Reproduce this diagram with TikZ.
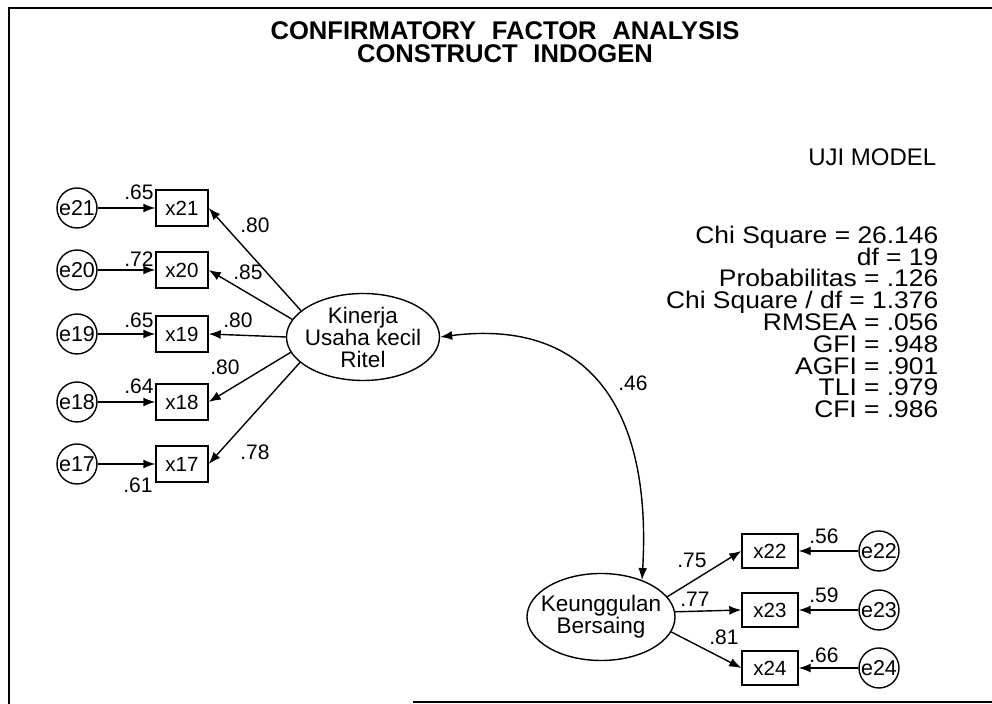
\documentclass[tikz,border=0pt]{standalone}
\usepackage{fontspec}
\setmainfont{Liberation Sans}
\newfontfamily\titlefont[WordSpace=2.2]{Liberation Sans}
\newfontfamily\statfont[FakeStretch=1.1]{Liberation Sans}
\usetikzlibrary{arrows.meta,shapes.geometric}
\newcommand{\tightlines}{\lineskiplimit=-20pt\relax}
\begin{document}
\begin{tikzpicture}[x=0.5pt,y=-0.5pt,line width=0.7pt,
    ind/.style={draw,rectangle,minimum width=26pt,minimum height=18pt,inner sep=0pt,font=\fontsize{10.25}{12}\selectfont},
    err/.style={draw,circle,minimum size=20pt,inner sep=0pt,font=\fontsize{10.75}{12}\selectfont},
    lat/.style={draw,ellipse,inner sep=-4pt,align=center,font=\fontsize{11.25}{11}\selectfont\tightlines},
    num/.style={inner sep=0pt,font=\fontsize{10.5}{12}\selectfont},
    arr/.style={-{Latex[length=6pt,width=4.5pt]}}]
      \useasboundingbox (0,0) rectangle (992,704);
      % frame
      \draw[line width=1pt] (992,8) -- (9,8) -- (9,704);
      \draw[line width=0.8pt] (413,702) -- (992,702);
      \node[font=\titlefont\bfseries\fontsize{12.8}{11.2}\selectfont\tightlines,align=center] (title) at (505,42)
        {CONFIRMATORY FACTOR ANALYSIS\\CONSTRUCT INDOGEN};
      % fit indices
      \node[anchor=east,inner sep=0pt,font=\fontsize{12}{12}\selectfont] (uji) at (937,157) {UJI MODEL};
      \node[anchor=east,inner sep=0pt,align=right,font=\statfont\fontsize{12}{10.9}\selectfont\tightlines] (stats) at (939,322)
        {Chi Square = 26.146\\df = 19\\Probabilitas = .126\\Chi Square / df = 1.376\\RMSEA = .056\\GFI = .948\\AGFI = .901\\TLI = .979\\CFI = .986};
      % Kinerja Usaha kecil Ritel
      \node[lat,minimum width=76.5pt,minimum height=43.5pt] (kinerja) at (363,337) {Kinerja\\Usaha kecil\\Ritel};
      \node[ind] (x21) at (182,208) {x21};
      \node[ind] (x20) at (182,270) {x20};
      \node[ind] (x19) at (182,334) {x19};
      \node[ind] (x18) at (182,402) {x18};
      \node[ind] (x17) at (182,464) {x17};
      \node[err] (e21) at (77,208) {\makebox[0pt]{e21}};
      \node[err] (e20) at (77,270) {\makebox[0pt]{e20}};
      \node[err] (e19) at (77,334) {\makebox[0pt]{e19}};
      \node[err] (e18) at (77,402) {\makebox[0pt]{e18}};
      \node[err] (e17) at (77,464) {\makebox[0pt]{e17}};
      \draw[arr] (e21) -- (x21);
      \draw[arr] (e20) -- (x20);
      \draw[arr] (e19) -- (x19);
      \draw[arr] (e18) -- (x18);
      \draw[arr] (e17) -- (x17);
      \draw[arr] (kinerja.157) -- (x21.east);
      \draw[arr] (kinerja.166) -- (x20.east);
      \draw[arr] (kinerja.180) -- (x19.east);
      \draw[arr] (kinerja.192) -- (x18.east);
      \draw[arr] (kinerja.202) -- (x17.east);
      \node[num] (r21) at (139,192) {.65};
      \node[num] (r20) at (139,259) {.72};
      \node[num] (r19) at (139,320) {.65};
      \node[num] (r18) at (139,386) {.64};
      \node[num] (r17) at (138,485) {.61};
      \node[num] (l21) at (255,225) {.80};
      \node[num] (l20) at (248,272) {.85};
      \node[num] (l19) at (238,320) {.80};
      \node[num] (l18) at (225,367) {.80};
      \node[num] (l17) at (255,452) {.78};
      % Keunggulan Bersaing
      \node[lat,minimum width=74pt,minimum height=43.5pt] (keunggulan) at (601,617) {Keunggulan\\Bersaing};
      \node[ind,minimum width=28pt,minimum height=17pt] (x22) at (770,551) {x22};
      \node[ind,minimum width=28pt,minimum height=17pt] (x23) at (770,610) {x23};
      \node[ind,minimum width=28pt,minimum height=17pt] (x24) at (770,668) {x24};
      \node[err] (e22) at (879,551) {\makebox[0pt]{e22}};
      \node[err] (e23) at (879,610) {\makebox[0pt]{e23}};
      \node[err] (e24) at (879,668) {\makebox[0pt]{e24}};
      \draw[arr] (e22) -- (x22);
      \draw[arr] (e23) -- (x23);
      \draw[arr] (e24) -- (x24);
      \draw[arr] (keunggulan.17) -- (x22.west);
      \draw[arr] (keunggulan.4) -- (x23.west);
      \draw[arr] (keunggulan.348) -- (x24.west);
      \node[num] (r22) at (824,536) {.56};
      \node[num] (r23) at (824,595) {.59};
      \node[num] (r24) at (824,655) {.66};
      \node[num] (l22) at (692,560) {.75};
      \node[num] (l23) at (695,599) {.77};
      \node[num] (l24) at (724,637) {.81};
      % correlation
      \draw[{Latex[length=6pt,width=4.5pt]}-{Latex[length=6pt,width=4.5pt]}] (kinerja.east)
        .. controls (590,318) and (652,410) .. (keunggulan.42);
      \node[num] (cor) at (633,383) {.46};
    \end{tikzpicture}
\end{document}
